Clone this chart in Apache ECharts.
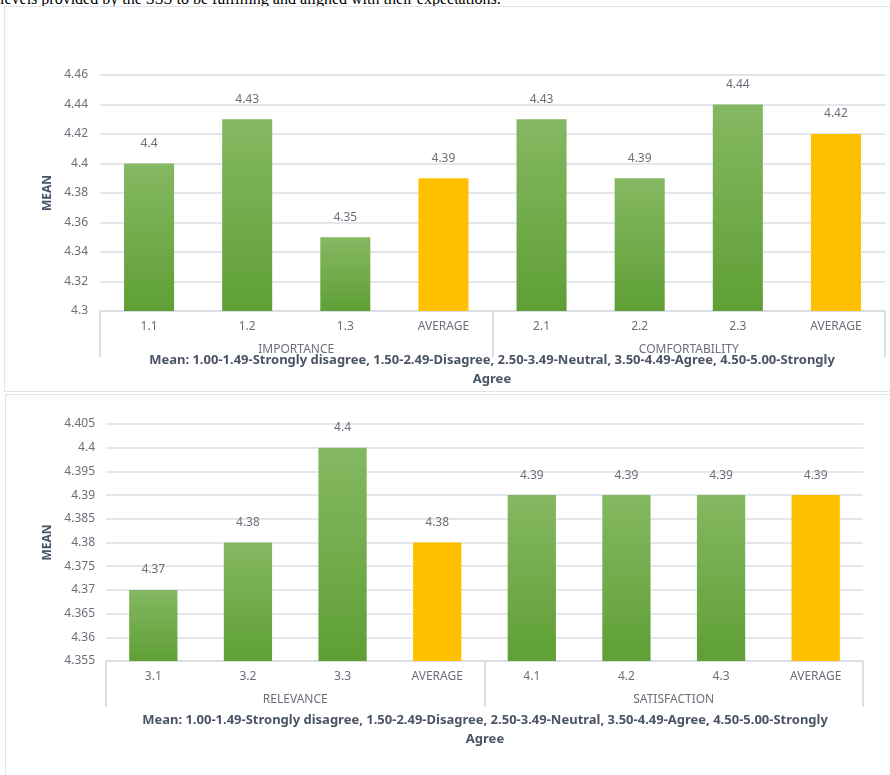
<!DOCTYPE html>
<html>
<head>
<meta charset="utf-8">
<script src="https://cdn.jsdelivr.net/npm/echarts@6/dist/echarts.min.js"></script>
<style>
  body { margin: 0; background: #fff; width: 890px; height: 775px; overflow: hidden; position: relative; }
  .topText { position: absolute; left: 0; top: -9px; font: 16px "Liberation Serif", serif; line-height: 16px; color: #000; white-space: nowrap; }
  .box { position: absolute; border: 1px solid #e1e5ea; background: #fff; }
</style>
</head>
<body>
<div class="topText">levels provided by the SSS to be fulfilling and aligned with their expectations.</div>
<div id="c1" class="box" style="left:4px; top:6px; width:900px; height:384px;"></div>
<div id="c2" class="box" style="left:5px; top:394px; width:900px; height:400px;"></div>
<script>
// chart 1
const cats1 = ['1.1', '1.2', '1.3', 'AVERAGE', '2.1', '2.2', '2.3', 'AVERAGE'];
const vals1 = [4.4, 4.43, 4.35, 4.39, 4.43, 4.39, 4.44, 4.42];
const groups1 = ['IMPORTANCE', 'COMFORTABILITY'];

// chart 2
const cats2 = ['3.1', '3.2', '3.3', 'AVERAGE', '4.1', '4.2', '4.3', 'AVERAGE'];
const vals2 = [4.37, 4.38, 4.4, 4.38, 4.39, 4.39, 4.39, 4.39];
const groups2 = ['RELEVANCE', 'SATISFACTION'];

const note = 'Mean: 1.00-1.49-Strongly disagree, 1.50-2.49-Disagree, 2.50-3.49-Neutral, 3.50-4.49-Agree, 4.50-5.00-Strongly\nAgree';

const gray = '#6b6f78';
const lineCol = '#dadfe5';
const font = '"Noto Sans", sans-serif';

const green = new echarts.graphic.LinearGradient(0, 0, 0, 1, [
    { offset: 0, color: '#85b862' },
    { offset: 1, color: '#5f9f35' }
]);

function makeOption(cats, vals, groups, cfg) {
    return {
        animation: false,
        textStyle: { fontFamily: font },
        grid: { left: cfg.left, top: cfg.top, width: cfg.width, height: cfg.height },
        title: {
            text: note,
            left: cfg.noteX,
            top: cfg.noteY,
            padding: 0,
            textAlign: 'center',
            textStyle: { fontSize: 13, fontWeight: 'bold', color: '#4a5464', lineHeight: 19, fontFamily: font }
        },
        xAxis: [{
            type: 'category',
            data: cats,
            axisLine: { lineStyle: { color: lineCol, width: 2 } },
            axisTick: { show: false },
            axisLabel: { color: gray, fontSize: 12, margin: 10 }
        }, {
            type: 'category',
            data: groups,
            position: 'bottom',
            axisLine: { show: false },
            axisTick: { show: true, length: 46, lineStyle: { color: lineCol, width: 2 } },
            axisLabel: { color: gray, fontSize: 12, margin: 33 },
            splitLine: { show: false }
        }],
        yAxis: {
            type: 'value',
            min: cfg.min,
            max: cfg.max,
            interval: cfg.interval,
            name: 'MEAN',
            nameLocation: 'middle',
            nameGap: cfg.nameGap,
            nameTextStyle: { fontSize: 12, fontWeight: 'bold', color: '#44546a' },
            axisLine: { show: false },
            axisTick: { show: false },
            axisLabel: { color: gray, fontSize: 12, margin: cfg.labelMargin, formatter: v => String(+v.toFixed(3)) },
            splitLine: { lineStyle: { color: lineCol, width: 1.5 } }
        },
        series: [{
            type: 'bar',
            data: vals,
            barWidth: '51%',
            itemStyle: {
                color: p => cats[p.dataIndex] === 'AVERAGE' ? '#ffc000' : green
            },
            label: {
                show: true,
                position: 'top',
                distance: 14,
                color: gray,
                fontSize: 12,
                formatter: p => String(p.value)
            }
        }]
    };
}

const chart1 = echarts.init(document.getElementById('c1'));
chart1.setOption(makeOption(cats1, vals1, groups1, {
    left: 95, top: 68, width: 785, height: 236,
    min: 4.3, max: 4.46, interval: 0.02,
    nameGap: 46, labelMargin: 12,
    noteX: 487, noteY: 344
}));

const chart2 = echarts.init(document.getElementById('c2'));
chart2.setOption(makeOption(cats2, vals2, groups2, {
    left: 100, top: 29, width: 757, height: 237,
    min: 4.355, max: 4.405, interval: 0.005,
    nameGap: 52, labelMargin: 11,
    noteX: 479, noteY: 316
}));
</script>
</body>
</html>
